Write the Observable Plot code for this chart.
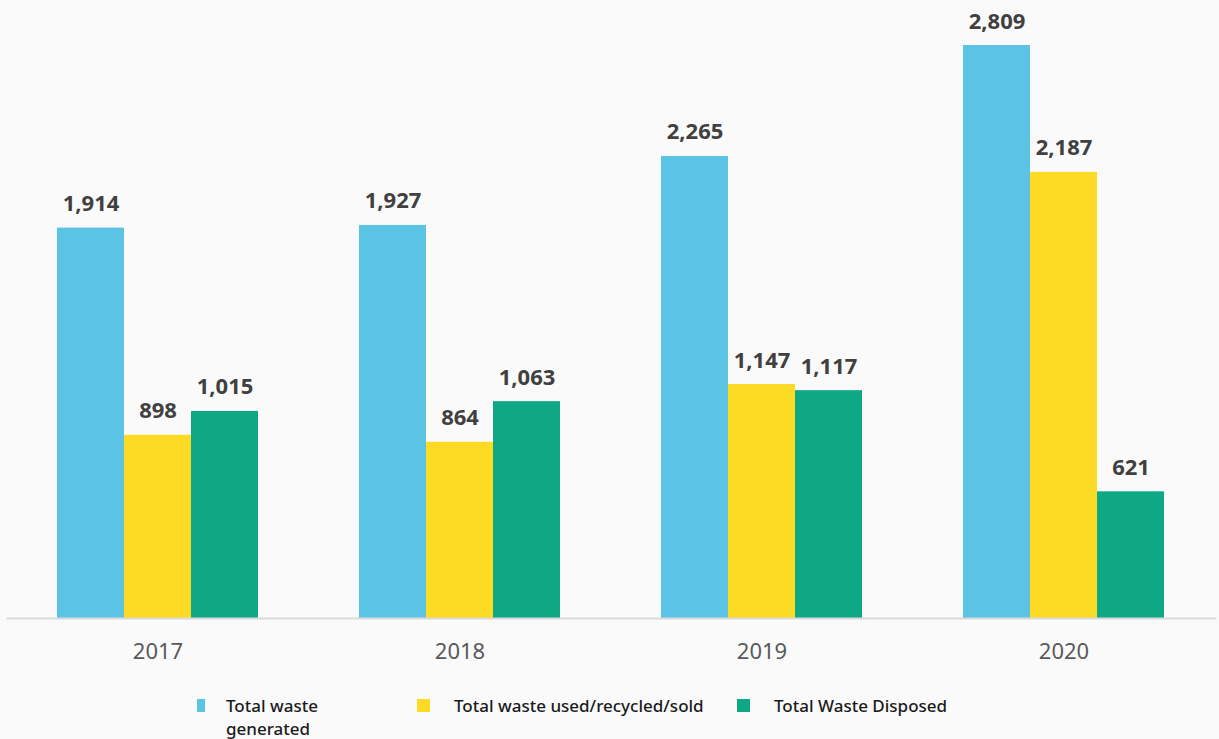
<!DOCTYPE html>
<html>
<head>
<meta charset="utf-8">
<script src="https://cdn.jsdelivr.net/npm/d3@7"></script>
<script src="https://cdn.jsdelivr.net/npm/@observablehq/plot@0.6"></script>
<style>
  html, body { margin: 0; padding: 0; background: #fafafa; }
  body { width: 1219px; height: 739px; overflow: hidden; font-family: "Noto Sans", sans-serif; }
  #chart svg { display: block; background: #fafafa; }
  #legend { position: relative; height: 59px; width: 1219px; }
  .item { position: absolute; top: 14px; display: flex; align-items: flex-start; font-size: 17px; font-weight: 500; color: #1a1a1a; line-height: 23px; }
  .sw { width: 13px; height: 13px; margin-top: 5px; margin-right: 24px; flex: none; }
  .item:nth-child(1) { left: 197px; }
  .item:nth-child(1) .sw { width: 8px; margin-right: 21px; }
  .item:nth-child(1) .tx { max-width: 105px; }
  .item:nth-child(2) { left: 417px; }
  .item:nth-child(3) { left: 737px; }
</style>
</head>
<body>
<div id="chart"></div>
<div id="legend"></div>
<script>
const years = ["2017", "2018", "2019", "2020"];
const series = ["Total waste generated", "Total waste used/recycled/sold", "Total Waste Disposed"];
const generated = [1914, 1927, 2265, 2809];
const recycled = [898, 864, 1147, 2187];
const disposed = [1015, 1063, 1117, 621];
const colors = ["#5bc4e5", "#fdda24", "#0ea884"];

const values = [generated, recycled, disposed];
const data = [];
years.forEach((y, i) => {
  series.forEach((s, j) => data.push({year: y, series: s, value: values[j][i]}));
});

const chart = Plot.plot({
  width: 1219,
  height: 680,
  marginTop: 45,
  marginBottom: 62,
  marginLeft: 6,
  marginRight: 4,
  style: {background: "#fafafa", fontFamily: "Noto Sans, sans-serif"},
  fx: {domain: years, paddingInner: 1/3, paddingOuter: 1/6, label: null},
  x: {domain: series, padding: 0, axis: null},
  y: {domain: [0, d3.max(data, d => d.value)], axis: null},
  color: {domain: series, range: colors},
  marks: [
    Plot.barY(data, {fx: "year", x: "series", y: "value", fill: "series"}),
    Plot.text(data, {fx: "year", x: "series", y: "value", text: d => d3.format(",")(d.value),
      lineAnchor: "bottom", dy: -17, fontSize: 22, fontWeight: "bold", fill: "#404040"}),
    Plot.frame({anchor: "bottom", facet: "super", stroke: "#d9d9d9", strokeWidth: 2, insetLeft: -50, insetRight: -51}),
    Plot.axisFx({anchor: "bottom", tickSize: 0, tickPadding: 25, fontSize: 22, fill: "#595959", label: null})
  ]
});
document.getElementById("chart").appendChild(chart);

const legend = document.getElementById("legend");
series.forEach((s, i) => {
  const it = document.createElement("div");
  it.className = "item";
  const sw = document.createElement("div");
  sw.className = "sw";
  sw.style.background = colors[i];
  const tx = document.createElement("div");
  tx.className = "tx";
  tx.textContent = s;
  it.appendChild(sw);
  it.appendChild(tx);
  legend.appendChild(it);
});
</script>
</body>
</html>
